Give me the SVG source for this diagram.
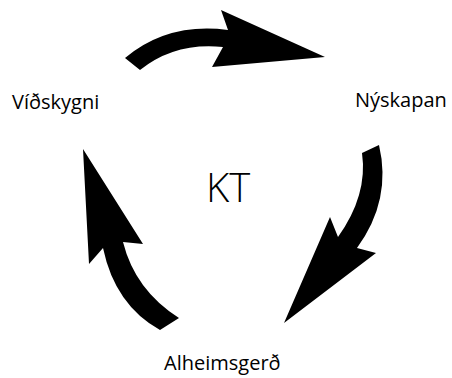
<svg xmlns="http://www.w3.org/2000/svg" width="452" height="378" viewBox="0 0 452 378">
<style>
.lbl{font-family:"Open Sans","Noto Sans","Liberation Sans",sans-serif;font-size:20px;fill:#000}
.ctr{font-family:"Open Sans","Noto Sans","Liberation Sans",sans-serif;font-size:40px;font-weight:300;fill:#000}
.arr{fill:#000;stroke:none}
</style>
<rect width="452" height="378" fill="#fff"/>
<g id="connectors">
<path class="arr" d="M125,58 Q168,22 228,30 L221,10 L325,57 L212,67 L223,47 Q175,42 140,70 Z"/>
<path class="arr" d="M379,145 Q392,200 357,248 L376,253 L284,323 L330,217 L338,237 Q368,195 362,153 Z"/>
<path class="arr" d="M179,318 Q135,290 123,242 L143,244 L83,149 L89,264 L103,248 Q115,305 160,330 Z"/>
</g>
<g id="node-center"><text class="ctr" x="206" y="202">KT</text></g>
<g id="node-vidskygni"><text class="lbl" x="12" y="109">Víðskygni</text></g>
<g id="node-nyskapan"><text class="lbl" x="355" y="107">Nýskapan</text></g>
<g id="node-alheimsgerd"><text class="lbl" x="164" y="370">Alheimsgerð</text></g>
</svg>
